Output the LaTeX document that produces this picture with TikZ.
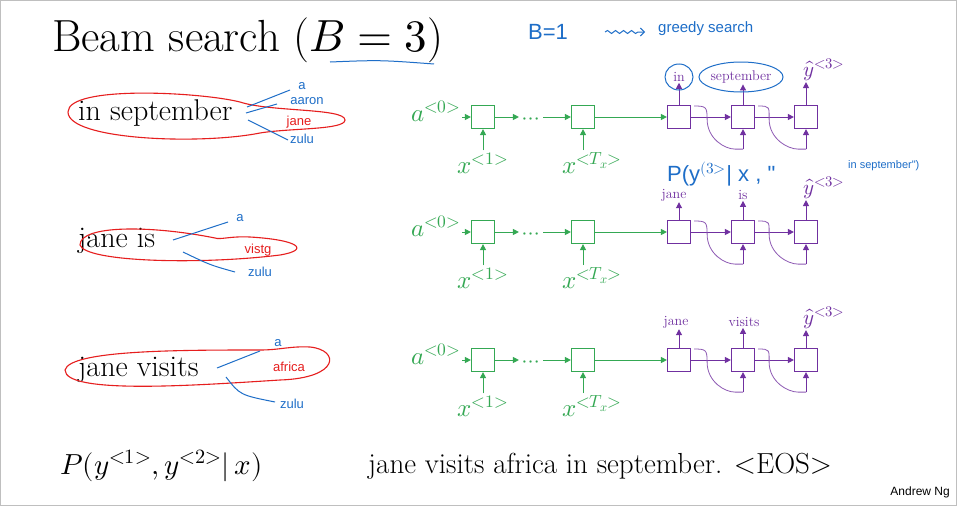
\documentclass[tikz,border=0pt]{standalone}
\usepackage{fontspec}
\usepackage{unicode-math}
\newfontfamily\hand{Liberation Sans}
\usetikzlibrary{arrows.meta,calc,decorations.pathmorphing}
\definecolor{gr}{RGB}{52,168,83}
\definecolor{pu}{RGB}{112,48,160}
\definecolor{bl}{RGB}{30,110,200}
\definecolor{rd}{RGB}{230,30,30}
\begin{document}
\begin{tikzpicture}[x=1pt,y=-1pt,
  gbox/.style={draw=gr,line width=1.2pt,minimum size=23pt,inner sep=0pt},
  pbox/.style={draw=pu,line width=1.2pt,minimum size=23pt,inner sep=0pt},
  garr/.style={draw=gr,line width=1pt,-{Triangle[length=6pt,width=6pt]}},
  parr/.style={draw=pu,line width=1pt,-{Triangle[length=6pt,width=6pt]}},
  pcurve/.style={draw=pu!80,line width=0.8pt},
  glab/.style={text=gr,font=\fontsize{25}{26}\selectfont,inner sep=1pt},
  plab/.style={text=pu,font=\fontsize{14}{16}\selectfont,inner sep=1pt},
  ylab/.style={text=pu,font=\fontsize{21}{22}\selectfont,inner sep=1pt},
  big/.style={font=\fontsize{30}{32}\selectfont,inner sep=0pt},
  hw/.style={text=bl,font=\hand\fontsize{13}{14}\selectfont,inner sep=0pt},
  hr/.style={text=rd,font=\hand\fontsize{13}{14}\selectfont,inner sep=0pt},
  bline/.style={draw=bl,line width=1pt},
  rloop/.style={draw=rd,line width=1.1pt}]
\useasboundingbox[fill=white] (0,0) rectangle (957,506);
\draw[gray!50] (0,0) rectangle (956,505);
\node[font=\fontsize{45}{48}\selectfont,anchor=west,inner sep=0pt] (title) at (52,40) {Beam search ($B=3$)};
\draw[bline] (330,62) .. controls (380,60) .. (434,64);
\node[hw,font=\hand\fontsize{22}{24}\selectfont,anchor=west] (b1) at (528,32) {B=1};
\node[hw,font=\hand\fontsize{15}{16}\selectfont,anchor=west] (gs) at (658,29) {greedy search};
\draw[bline,-{Straight Barb[length=4pt]},decorate,decoration={snake,amplitude=1.5pt,segment length=8pt,post length=4pt}] (605,32) -- (645,32);

\foreach \r/\y in {1/117,2/232,3/360}{
  \node[gbox] (g1\r) at (483,\y) {};
  \node[gbox] (g2\r) at (583,\y) {};
  \node[pbox] (p1\r) at (679,\y) {};
  \node[pbox] (p2\r) at (743,\y) {};
  \node[pbox] (p3\r) at (806,\y) {};
  \node[glab,anchor=east] (a\r) at (462,\y-6) {$a^{<0>}$};
  \node[text=gr,font=\fontsize{22}{22}\selectfont] (d\r) at (531,\y+4) {$\cdots$};
  \node[glab] (x1\r) at (483,\y+46) {$x^{<1>}$};
  \node[glab] (x2\r) at (592,\y+46) {$x^{<T_x>}$};
  \draw[garr] (a\r.east|-g1\r) -- (g1\r);
  \draw[garr] (g1\r) -- (d\r.west|-g1\r);
  \draw[garr] (d\r.east|-g1\r) -- (g2\r);
  \draw[garr] (x1\r.north-|g1\r) ++(0,-1) -- (g1\r);
  \draw[garr] (x2\r.north-|g2\r) ++(0,-1) -- (g2\r);
  \draw[garr] (g2\r) -- (p1\r);
  \draw[parr] (p1\r) -- (p2\r);
  \draw[parr] (p2\r) -- (p3\r);
  \draw[pcurve] ($(p1\r.east)+(3,-11)$) .. controls +(12,0) and +(0,-12) .. ($(p1\r.east)+(16,2)$) .. controls +(0,20) and +(-10,0) .. ($(p2\r.south)+(-8,20)$) -- ($(p2\r.south)+(0,20)$);
  \draw[parr] ($(p2\r.south)+(0,20)$) -- (p2\r);
  \draw[pcurve] ($(p2\r.east)+(3,-11)$) .. controls +(12,0) and +(0,-12) .. ($(p2\r.east)+(14,2)$) .. controls +(0,20) and +(-10,0) .. ($(p3\r.south)+(-8,20)$) -- ($(p3\r.south)+(0,20)$);
  \draw[parr] ($(p3\r.south)+(0,20)$) -- (p3\r);
}
% output labels
\node[plab] (w11) at (679,77) {in};
\node[plab] (w21) at (741,77) {september};
\node[ylab] (w31) at (824,70) {$\hat y^{<3>}$};
\node[plab] (w12) at (674,195) {jane};
\node[plab] (w22) at (743,195) {is};
\node[ylab] (w32) at (824,188) {$\hat y^{<3>}$};
\node[plab] (w13) at (676,322) {jane};
\node[plab] (w23) at (744,322) {visits};
\node[ylab] (w33) at (824,318) {$\hat y^{<3>}$};
\foreach \r in {1,2,3}{
  \draw[parr] (p1\r) -- (w1\r.south-|p1\r);
  \draw[parr] (p2\r) -- (w2\r.south-|p2\r);
  \draw[parr] (p3\r) -- (p3\r|-w3\r.south);
}
\draw[bline] (w11) ellipse (14 and 13);
\draw[bline] (w21) ellipse (42 and 15);
\node[hw,font=\hand\fontsize{22}{24}\selectfont,anchor=west] (pc) at (667,174) {P(y$^{(3>}$| x , "};
\node[hw,anchor=west,font=\hand\fontsize{11}{12}\selectfont] (ins) at (848,166) {in september")};

% left side
\node[big,anchor=west] (t1) at (78,113) {in september};
\node[big,anchor=west] (t2) at (78,241) {jane is};
\node[big,anchor=west] (t3) at (78,370) {jane visits};
\draw[rloop] (68,112) .. controls (68,85) and (200,92) .. (240,102) .. controls (270,112) and (345,108) .. (345,120) .. controls (345,130) and (290,128) .. (260,133) .. controls (200,145) and (68,140) .. (68,112);
\draw[rloop] (215,238) .. controls (150,225) and (80,225) .. (80,245) .. controls (85,262) and (200,265) .. (280,255) .. controls (310,250) and (300,240) .. (250,237) .. controls (230,236) and (220,240) .. (215,238);
\draw[rloop] (260,350) .. controls (180,350) and (70,350) .. (65,370) .. controls (65,395) and (200,385) .. (280,380) .. controls (340,378) and (340,350) .. (310,347) .. controls (290,346) and (280,350) .. (260,350);
% blue lines and words
\node[hw] (ha) at (302,86) {a};
\node[hw] (haa) at (307,101) {aaron};
\node[hr] (hj) at (299,122) {jane};
\node[hw] (hz) at (302,139) {zulu};
\draw[bline] (247,107) -- (290,90);
\draw[bline] (246,113) -- (277,104);
\draw[bline] (248,120) -- (288,140);
\node[hw] (h2a) at (240,218) {a};
\node[hr] (h2v) at (258,250) {vistg};
\node[hw] (h2z) at (260,272) {zulu};
\draw[bline] (173,240) -- (228,222);
\draw[bline] (183,252) .. controls (210,265) .. (235,272);
\node[hw] (h3a) at (278,343) {a};
\node[hr] (h3f) at (289,367) {africa};
\node[hw] (h3z) at (292,404) {zulu};
\draw[bline] (217,368) -- (260,351);
\draw[bline] (226,377) .. controls (240,395) .. (275,402);

\node[font=\fontsize{29}{30}\selectfont,anchor=west,inner sep=0pt] (pf) at (60,466) {$P(y^{<1>},y^{<2>}|\,x)$};
\node[font=\fontsize{29}{30}\selectfont,anchor=west,inner sep=0pt] (sent) at (368,466) {jane visits africa in september. <EOS>};
\node[font=\hand\fontsize{12}{12}\selectfont,anchor=east,inner sep=0pt] (ng) at (950,492) {Andrew Ng};
\end{tikzpicture}
\end{document}
